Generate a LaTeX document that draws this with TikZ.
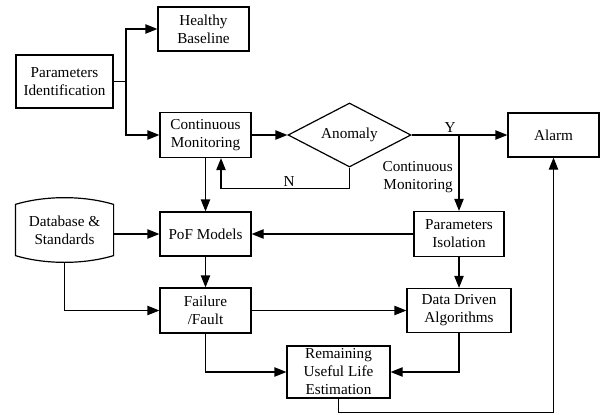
\documentclass[tikz,border=0pt]{standalone}
\usepackage{fontspec}
\setmainfont{Liberation Serif}
\usetikzlibrary{arrows.meta,shapes.geometric}

\begin{document}
\begin{tikzpicture}[x=0.75pt,y=0.75pt,yscale=-1,xscale=1,
  box/.style={draw, line width=0.9pt, align=center, inner sep=0.75pt, font=\fontsize{11.4}{13.5}\selectfont},
  lbl/.style={inner sep=0.75pt, align=center, font=\fontsize{11.4}{13.5}\selectfont},
  ln/.style={line width=0.9pt},
  arr/.style={line width=0.9pt, -{Triangle[length=9pt,width=7pt]}}]
\useasboundingbox (0,0) rectangle (603,414);

% Boxes
\node[box, minimum width=68.25pt, minimum height=33pt] (hb) at (203.5,29) {Healthy\\Baseline};
\node[box, minimum width=72.75pt, minimum height=39.75pt] (pid) at (64.5,81.5) {Parameters\\Identification};
\node[box, minimum width=68.25pt, minimum height=33.75pt] (cm) at (205.5,135) {Continuous\\Monitoring};
\node[box, diamond, aspect=2, minimum width=92.25pt, minimum height=48pt] (anom) at (349.5,135) {Anomaly};
\node[box, minimum width=68.25pt, minimum height=33pt] (alarm) at (553.5,135) {Alarm};
\node[box, draw=none, minimum width=72.75pt, minimum height=48pt] (db) at (64.5,230) {Database \&\\Standards};
\node[box, minimum width=68.25pt, minimum height=33pt] (pof) at (205.5,234) {PoF Models};
\node[box, minimum width=67.5pt, minimum height=33.75pt] (piso) at (459,234) {Parameters\\Isolation};
\node[box, minimum width=68.25pt, minimum height=33.75pt] (fail) at (205.5,310.5) {Failure\\/Fault};
\node[box, minimum width=78pt, minimum height=33pt] (dda) at (459,310.5) {Data Driven\\Algorithms};
\node[box, minimum width=77.25pt, minimum height=39pt] (rul) at (338.5,372) {Remaining\\Useful Life\\Estimation};

% Database outline
\draw[ln] ([yshift=5.25pt]db.north west) .. controls +(30,-9) and +(-30,-9) .. ([yshift=5.25pt]db.north east)
  -- ([yshift=-5.25pt]db.south east) .. controls +(-30,9) and +(30,9) .. ([yshift=-5.25pt]db.south west) -- cycle;

% Branch points
\coordinate (pisplit) at (126,81.5);
\coordinate (ysplit) at (459,135);
\coordinate (nturn) at (221,188.5);
\coordinate (rbot) at (553.5,412.5);

%Straight Lines
\draw[ln] (pid.east) -- (pisplit);
\draw[arr] (pisplit) |- (hb.west);
\draw[arr] (pisplit) |- (cm.west);
\draw[arr] (cm.east) -- (anom.west);
\draw[arr] (anom.east) -- (alarm.west);
\draw[arr] (ysplit) -- (piso.north);
\draw[arr] (anom.south) |- (nturn) -- (nturn |- cm.south);
\draw[arr] (cm.south) -- (pof.north);
\draw[arr] (piso.west) -- (pof.east);
\draw[arr] (piso.south) -- (dda.north);
\draw[arr] (db.east |- pof.west) -- (pof.west);
\draw[arr] (db.south) |- (fail.west);
\draw[arr] (pof.south) -- (fail.north);
\draw[arr] (fail.east) -- (dda.west);
\draw[arr] (fail.south) |- (rul.west);
\draw[arr] (dda.south) |- (rul.east);
\draw[arr] (rul.south) |- (rbot) -- (alarm.south);

% Text Node
\node[lbl, anchor=south] (ylbl) at (450,134) {Y};
\node[lbl, anchor=south] (nlbl) at (289,187.5) {N};
\node[lbl, anchor=east, align=right] (cmlbl) at (454,177) {Continuous\\Monitoring};

\end{tikzpicture}
\end{document}
